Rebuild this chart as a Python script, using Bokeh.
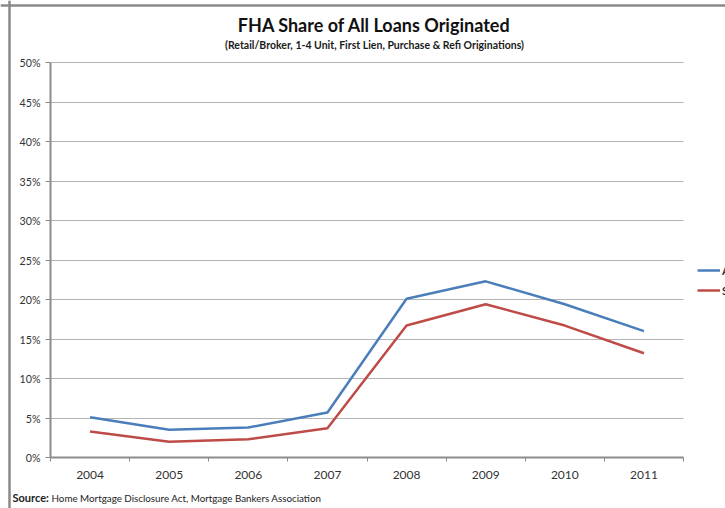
from bokeh.plotting import figure
from bokeh.models import (FixedTicker, NumeralTickFormatter, Label, Legend, LegendItem,
                          Range1d, Span)
from bokeh.embed import file_html
from bokeh.resources import INLINE

years = [2004, 2005, 2006, 2007, 2008, 2009, 2010, 2011]
all_loans = [5.1, 3.5, 3.8, 5.7, 20.1, 22.3, 19.4, 16.0]
second = [3.3, 2.0, 2.3, 3.7, 16.7, 19.4, 16.7, 13.2]
series_names = ["All Loans", "Single Family"]
y_ticks = [0, 5, 10, 15, 20, 25, 30, 35, 40, 45, 50]

FONT = "Lato"
GRAY = "#8c8c8c"
W, H = 725, 508

# pixel layout of the plotting area inside the page
PX_LEFT, PX_RIGHT, PX_TOP, PX_BOTTOM = 50, 683, 62, 457
x0, x1 = years[0] - 0.5, years[-1] + 0.5
y0, y1 = 0.0, 0.5
xs = (PX_RIGHT - PX_LEFT) / (x1 - x0)
ys = (PX_BOTTOM - PX_TOP) / (y1 - y0)
x_range = Range1d(x0 - PX_LEFT / xs, x1 + (W - PX_RIGHT) / xs)
y_range = Range1d(y0 - (H - PX_BOTTOM) / ys, y1 + PX_TOP / ys)

p = figure(width=W, height=H, output_backend="svg", toolbar_location=None,
           x_range=x_range, y_range=y_range,
           min_border_left=0, min_border_right=0, min_border_top=0, min_border_bottom=0)
p.title.visible = False
p.outline_line_color = None
p.background_fill_color = "white"
p.border_fill_color = "white"

r1 = p.line(years, [v / 100 for v in all_loans], line_color="#4a7ebb", line_width=2.5)
r2 = p.line(years, [v / 100 for v in second], line_color="#be4b48", line_width=2.5)

# x axis
xa = p.xaxis[0]
xa.fixed_location = y0
xa.bounds = (x0, x1)
xa.ticker = FixedTicker(ticks=years, minor_ticks=[y - 0.5 for y in years] + [years[-1] + 0.5])
xa.major_tick_out = 0
xa.major_tick_in = 0
xa.minor_tick_out = 4
xa.minor_tick_in = 0
xa.minor_tick_line_color = GRAY
xa.axis_line_color = GRAY
xa.axis_line_width = 2
xa.major_label_text_font = FONT
xa.major_label_text_font_size = "9pt"
xa.major_label_text_color = "#333333"
xa.major_label_standoff = 9
p.xgrid.grid_line_color = None

# y axis
ya = p.yaxis[0]
ya.fixed_location = x0
ya.bounds = (y0, y1)
ya.ticker = FixedTicker(ticks=[t / 100 for t in y_ticks], minor_ticks=[])
ya.formatter = NumeralTickFormatter(format="0%")
ya.major_tick_out = 5
ya.major_tick_in = 0
ya.major_tick_line_color = GRAY
ya.axis_line_color = GRAY
ya.axis_line_width = 2
ya.major_label_text_font = FONT
ya.major_label_text_font_size = "8pt"
ya.major_label_text_color = "#333333"
ya.major_label_standoff = 5
p.ygrid.grid_line_color = "#b4b4b4"
p.ygrid.grid_line_width = 1
p.ygrid.cross_bounds = (x0, x1)

# page border (top and left)
p.add_layout(Span(location=y_range.end - 5 / ys, dimension="width",
                  line_color="#8a8a8a", line_width=2.5))
p.add_layout(Span(location=x_range.start + 9 / xs, dimension="height",
                  line_color="#8a8a8a", line_width=2.5))

# titles (screen units, y measured from bottom)
p.add_layout(Label(x=374, y=H - 24, x_units="screen", y_units="screen",
                   text="FHA Share of All Loans Originated", text_font=FONT,
                   text_font_style="bold", text_font_size="18px", text_color="#111111",
                   text_align="center", text_baseline="middle"))
p.add_layout(Label(x=374, y=H - 44, x_units="screen", y_units="screen",
                   text="(Retail/Broker, 1-4 Unit, First Lien, Purchase & Refi Originations)",
                   text_font=FONT, text_font_style="bold", text_font_size="10.5px",
                   text_color="#1a1a1a", text_align="center", text_baseline="middle"))
p.add_layout(Label(x=12, y=H - 497, x_units="screen", y_units="screen",
                   text="Source:", text_font=FONT, text_font_style="bold",
                   text_font_size="11px", text_color="#222222",
                   text_align="left", text_baseline="middle"))
p.add_layout(Label(x=51, y=H - 497, x_units="screen", y_units="screen",
                   text="Home Mortgage Disclosure Act, Mortgage Bankers Association",
                   text_font=FONT, text_font_size="9.8px", text_color="#222222",
                   text_align="left", text_baseline="middle"))

legend = Legend(items=[LegendItem(label=series_names[0], renderers=[r1]),
                       LegendItem(label=series_names[1], renderers=[r2])],
                location=(697, H - 300), orientation="vertical",
                border_line_color=None, background_fill_alpha=0,
                padding=0, margin=0, spacing=0, glyph_width=23, glyph_height=20,
                label_standoff=2, label_text_font=FONT, label_text_font_size="11px",
                label_text_font_style="bold", label_text_color="#333333")
p.add_layout(legend)

open("out.html", "w").write(file_html(p, INLINE))
